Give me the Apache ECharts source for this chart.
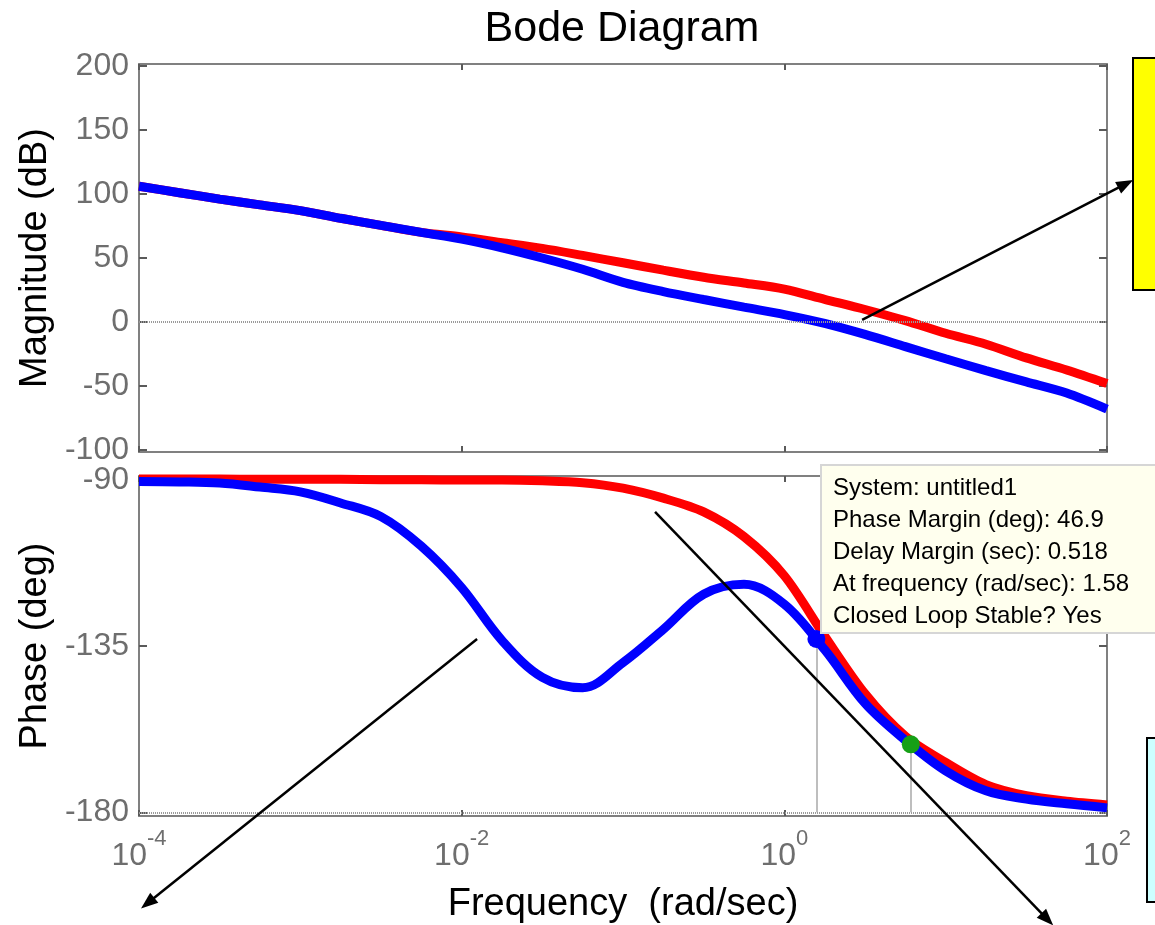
<!DOCTYPE html>
<html>
<head>
<meta charset="utf-8">
<script src="https://cdn.jsdelivr.net/npm/echarts@6/dist/echarts.min.js"></script>
<style>
  html, body { margin: 0; padding: 0; background: #ffffff; }
  #chart { width: 1155px; height: 925px; }
</style>
</head>
<body>
<div id="chart"></div>
<script>
// Frequency grid (rad/sec), quarter-decade steps
const freqs = [
  0.0001, 0.0001778, 0.0003162, 0.0005623,
  0.001, 0.001778, 0.003162, 0.005623,
  0.01, 0.01778, 0.03162, 0.05623,
  0.1, 0.1778, 0.3162, 0.5623,
  1, 1.778, 3.162, 5.623,
  10, 17.78, 31.62, 56.23,
  100
];

// Magnitude (dB)
const magRed = [
  106, 101, 96, 91.5, 87, 81, 75.5, 70, 66.4, 62, 57.5, 52,
  46.3, 40.5, 35, 30.5, 25.7, 17.7, 9.8, 1.1, -8.8, -17.3, -28, -37.4, -48
];
const magBlue = [
  106, 101, 96, 91.5, 87, 81, 75.5, 70, 64.8, 58, 50, 41.2,
  31, 23.8, 17.6, 11.6, 5.8, -1.1, -9.7, -19.2, -28.7, -38, -46.8, -55.5, -68
];

// Phase (deg)
const phaseRed = [
  -89.8, -89.8, -89.8, -89.9, -89.9, -89.9, -90, -90, -90.1, -90.1, -90.3, -90.8,
  -92.3, -95, -98.7, -105.4, -116, -132.3, -147.9, -159.4, -166.5, -172.5, -175.5, -177, -178
];
const phaseBlue = [
  -90.5, -90.6, -90.9, -92, -93.3, -96.3, -100, -108, -119.2, -133.5, -143.5, -146.3,
  -139.5, -130.5, -121, -118.3, -123.7, -136, -150.5, -160.5, -168.8, -174.2, -176.4, -177.7, -178.8
];

// Tick labels
const magTicks = [-100, -50, 0, 50, 100, 150, 200];
const phaseTicks = [-180, -135, -90];

// Stability margin read-out
const phaseMargin = 46.9;        // deg
const delayMargin = 0.518;       // sec
const crossoverFreq = 1.58;      // rad/sec
const marginPoint = [crossoverFreq, -180 + phaseMargin];
const secondPoint = [6.08, -161.6];
const dataTipLines = [
  'System: untitled1',
  'Phase Margin (deg): ' + phaseMargin,
  'Delay Margin (sec): ' + delayMargin,
  'At frequency (rad/sec): ' + crossoverFreq,
  'Closed Loop Stable? Yes'
];

// Annotation arrows in axis units: [grid, from, to]
const arrows = [
  [0, [3.035, 1.6], [145.4, 110.9]],
  [1, [0.01246, -133.1], [0.0001029, -206.0]],
  [1, [0.158, -98.7], [46.4, -210.6]]
];

const FONT = "'Liberation Sans', Arial, Helvetica, sans-serif";
const TICK_GRAY = '#6e6e6e';
const FRAME = '#808080';

const pairs = (ys) => freqs.map((f, i) => [f, ys[i]]);

const chart = echarts.init(document.getElementById('chart'), null, { renderer: 'canvas' });

const frameLine = { show: true, onZero: false, lineStyle: { color: FRAME, width: 2 } };
const innerTick = (len) => ({ show: true, inside: true, length: len, lineStyle: { color: '#5a5a5a', width: 2 } });

function freqAxis(gridIndex, position, withLabels) {
  return {
    type: 'log', logBase: 10, gridIndex, position,
    min: 0.0001, max: 100, interval: 2,
    axisLine: frameLine,
    axisTick: innerTick(6),
    splitLine: { show: false },
    axisLabel: withLabels ? {
      show: true, margin: 12, fontFamily: FONT,
      formatter: (v) => '{b|10}{s|' + Math.round(Math.log10(v)) + '}',
      rich: {
        b: { fontSize: 32, color: TICK_GRAY, fontFamily: FONT, lineHeight: 44, verticalAlign: 'bottom' },
        s: { fontSize: 22, color: TICK_GRAY, fontFamily: FONT, lineHeight: 22, verticalAlign: 'top' }
      }
    } : { show: false }
  };
}

function valueAxis(gridIndex, position, min, max, ticks, withLabels, name) {
  return {
    type: 'value', gridIndex, position, min, max,
    name: name || '',
    nameLocation: 'middle', nameGap: 80,
    nameTextStyle: { fontSize: 38, color: '#000', fontFamily: FONT },
    axisLine: frameLine,
    axisTick: Object.assign(innerTick(8), { customValues: ticks }),
    splitLine: { show: false },
    axisLabel: withLabels ? {
      show: true, customValues: ticks, margin: 10,
      fontSize: 32, color: TICK_GRAY, fontFamily: FONT
    } : { show: false }
  };
}

const option = {
  animation: false,
  backgroundColor: '#ffffff',
  grid: [
    { left: 139, top: 64, width: 968, height: 388 },
    { left: 139, top: 476, width: 968, height: 342 }
  ],
  xAxis: [
    freqAxis(0, 'bottom', false),
    freqAxis(0, 'top', false),
    Object.assign(freqAxis(1, 'bottom', true), {
      name: 'Frequency  (rad/sec)', nameLocation: 'middle', nameGap: 70,
      nameTextStyle: { fontSize: 38, color: '#000', fontFamily: FONT }
    }),
    freqAxis(1, 'top', false)
  ],
  yAxis: [
    valueAxis(0, 'left', -101.5, 201.5, magTicks, true, 'Magnitude (dB)'),
    valueAxis(0, 'right', -101.5, 201.5, magTicks, false),
    valueAxis(1, 'left', -181, -89, phaseTicks, true, 'Phase (deg)'),
    valueAxis(1, 'right', -181, -89, phaseTicks, false)
  ],
  series: [
    {
      type: 'line', xAxisIndex: 0, yAxisIndex: 0, data: pairs(magRed),
      showSymbol: false, smooth: 0.3, lineStyle: { color: '#ff0000', width: 9 },
      markLine: {
        silent: true, symbol: ['none', 'none'], label: { show: false },
        lineStyle: { color: '#9a9a9a', width: 2, type: [1, 1] },
        data: [{ yAxis: 0 }]
      }
    },
    {
      type: 'line', xAxisIndex: 0, yAxisIndex: 0, data: pairs(magBlue),
      showSymbol: false, smooth: 0.3, lineStyle: { color: '#0000ff', width: 9 }
    },
    {
      type: 'line', xAxisIndex: 2, yAxisIndex: 2, data: pairs(phaseRed),
      showSymbol: false, smooth: 0.3, lineStyle: { color: '#ff0000', width: 9 },
      markLine: {
        silent: true, symbol: ['none', 'none'], label: { show: false },
        lineStyle: { color: '#9a9a9a', width: 2, type: [1, 1] },
        data: [{ yAxis: -180 }]
      }
    },
    {
      type: 'line', xAxisIndex: 2, yAxisIndex: 2, data: pairs(phaseBlue),
      showSymbol: false, smooth: 0.35, lineStyle: { color: '#0000ff', width: 9 }
    },
    {
      type: 'scatter', xAxisIndex: 2, yAxisIndex: 2, z: 10,
      data: [
        { value: marginPoint, itemStyle: { color: '#0000ff', opacity: 1 } },
        { value: secondPoint, itemStyle: { color: '#16a016', opacity: 1 } }
      ],
      symbol: 'circle', symbolSize: 18,
      itemStyle: { opacity: 1 },
      markLine: {
        silent: true, symbol: ['none', 'none'], label: { show: false }, z: 1,
        lineStyle: { color: '#a8a8a8', width: 1.5, type: 'solid' },
        data: [
          [{ coord: marginPoint }, { coord: [marginPoint[0], -180] }],
          [{ coord: secondPoint }, { coord: [secondPoint[0], -180] }]
        ]
      }
    }
  ]
};

chart.setOption(option);

// Annotation layer: title, note boxes, data tip and arrows
const graphics = [
  {
    type: 'text', id: 'title', x: 622, y: 29, z: 20,
    style: { text: 'Bode Diagram', font: '43px ' + FONT, fill: '#000', align: 'center', verticalAlign: 'middle' }
  },
  {
    type: 'rect', id: 'noteYellow', z: 20,
    shape: { x: 1133, y: 58, width: 80, height: 232 },
    style: { fill: '#ffff00', stroke: '#000', lineWidth: 2 }
  },
  {
    type: 'rect', id: 'noteCyan', z: 20,
    shape: { x: 1147, y: 738, width: 80, height: 164 },
    style: { fill: '#ccffff', stroke: '#000', lineWidth: 2 }
  },
  {
    type: 'rect', id: 'tipBox', z: 30,
    shape: { x: 821, y: 465, width: 400, height: 168 },
    style: { fill: '#ffffee', stroke: '#d6d6d6', lineWidth: 2 }
  },
  {
    type: 'text', id: 'tipText', z: 31, x: 833, y: 472,
    style: {
      text: dataTipLines.join('\n'), font: '24px ' + FONT, fill: '#000',
      lineHeight: 32, align: 'left', verticalAlign: 'top'
    }
  }
];

arrows.forEach((a, i) => {
  const finder = a[0] === 0 ? { xAxisIndex: 0, yAxisIndex: 0 } : { xAxisIndex: 2, yAxisIndex: 2 };
  const p0 = chart.convertToPixel(finder, a[1]);
  const p1 = chart.convertToPixel(finder, a[2]);
  const dx = p1[0] - p0[0], dy = p1[1] - p0[1];
  const len = Math.sqrt(dx * dx + dy * dy);
  const ux = dx / len, uy = dy / len;
  const headL = 17, headW = 13;
  const bx = p1[0] - ux * headL, by = p1[1] - uy * headL;
  graphics.push({
    type: 'line', id: 'arrowLine' + i, z: 40,
    shape: { x1: p0[0], y1: p0[1], x2: bx + ux * 2, y2: by + uy * 2 },
    style: { stroke: '#000', lineWidth: 2.5 }
  });
  graphics.push({
    type: 'polygon', id: 'arrowHead' + i, z: 40,
    shape: { points: [
      [p1[0], p1[1]],
      [bx - uy * headW / 2, by + ux * headW / 2],
      [bx + uy * headW / 2, by - ux * headW / 2]
    ] },
    style: { fill: '#000' }
  });
});

chart.setOption({ graphic: graphics });
</script>
</body>
</html>
